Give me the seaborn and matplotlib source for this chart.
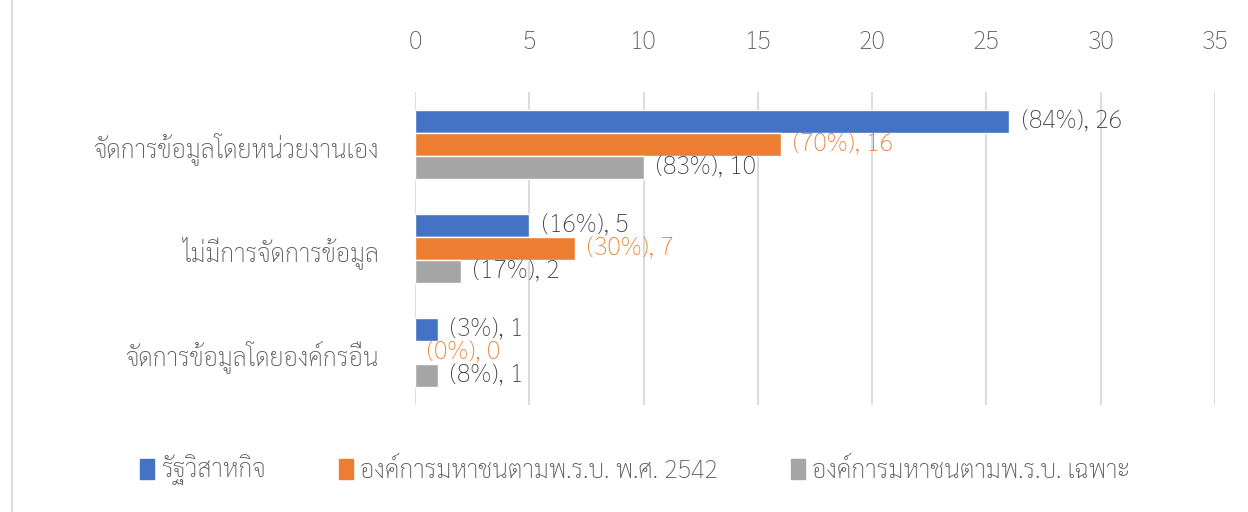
import matplotlib
matplotlib.use("Agg")
import matplotlib.pyplot as plt
from matplotlib.patches import Patch, Rectangle
import pandas as pd
import seaborn as sns

categories = ["จัดการข้อมูลโดยหน่วยงานเอง", "ไม่มีการจัดการข้อมูล", "จัดการข้อมูลโดยองค์กรอื่น"]
series = ["รัฐวิสาหกิจ", "องค์การมหาชนตามพ.ร.บ. พ.ศ. 2542", "องค์การมหาชนตามพ.ร.บ. เฉพาะ"]
counts_state = [26, 5, 1]
counts_2542 = [16, 7, 0]
counts_special = [10, 2, 1]
pct_state = [84, 16, 3]
pct_2542 = [70, 30, 0]
pct_special = [83, 17, 8]
colors = ["#4472C4", "#ED7D31", "#A5A5A5"]
ticks = [0, 5, 10, 15, 20, 25, 30, 35]

rows = []
for s, cnt, pct in zip(series, [counts_state, counts_2542, counts_special],
                       [pct_state, pct_2542, pct_special]):
    for c, v, p in zip(categories, cnt, pct):
        rows.append({"category": c, "series": s, "count": v, "pct": p})
df = pd.DataFrame(rows)

sns.set_style("white")
plt.rcParams["font.family"] = ["Sarabun", "DejaVu Sans"]
plt.rcParams["font.weight"] = "light"
fs = 18

fig = plt.figure(figsize=(12.48, 5.12), dpi=100)
ax = fig.add_axes([0.3325, 0.209, 0.6411, 0.611])
sns.barplot(data=df, y="category", x="count", hue="series", order=categories,
            hue_order=series, palette=colors, width=0.66, orient="h",
            saturation=1, legend=False, ax=ax)

for cont, s in zip(ax.containers, series):
    sub = df[df["series"] == s]
    labels = [f"({p}%), {v}" for p, v in zip(sub["pct"], sub["count"])]
    col = "#ED7D31" if s == series[1] else "#404040"
    ax.bar_label(cont, labels=labels, padding=9, fontsize=fs, color=col)

ax.set_xlim(0, 35)
ax.set_ylim(2.5, -0.5)
ax.set_xticks(ticks)
ax.xaxis.tick_top()
ax.tick_params(axis="x", length=0, pad=27, labelsize=fs, labelcolor="#595959")
ax.tick_params(axis="y", length=0, pad=26, labelsize=fs, labelcolor="#595959")
ax.grid(axis="x", color="#d9d9d9", linewidth=1.3)
ax.set_axisbelow(True)
for sp in ax.spines.values():
    sp.set_visible(False)
ax.set_xlabel("")
ax.set_ylabel("")

handles = [Patch(color=c) for c in colors]
fig.legend(handles, series, loc="center", bbox_to_anchor=(0.509, 0.082), ncol=3,
           frameon=False, fontsize=fs, labelcolor="#595959", handlelength=0.56,
           handleheight=0.9, handletextpad=0.3, columnspacing=2.9)
fig.add_artist(Rectangle((0.0096, -0.01), 1.0, 1.02, transform=fig.transFigure,
                         fill=False, edgecolor="#d9d9d9", linewidth=1.3))

fig.savefig("out.png", dpi=100)
